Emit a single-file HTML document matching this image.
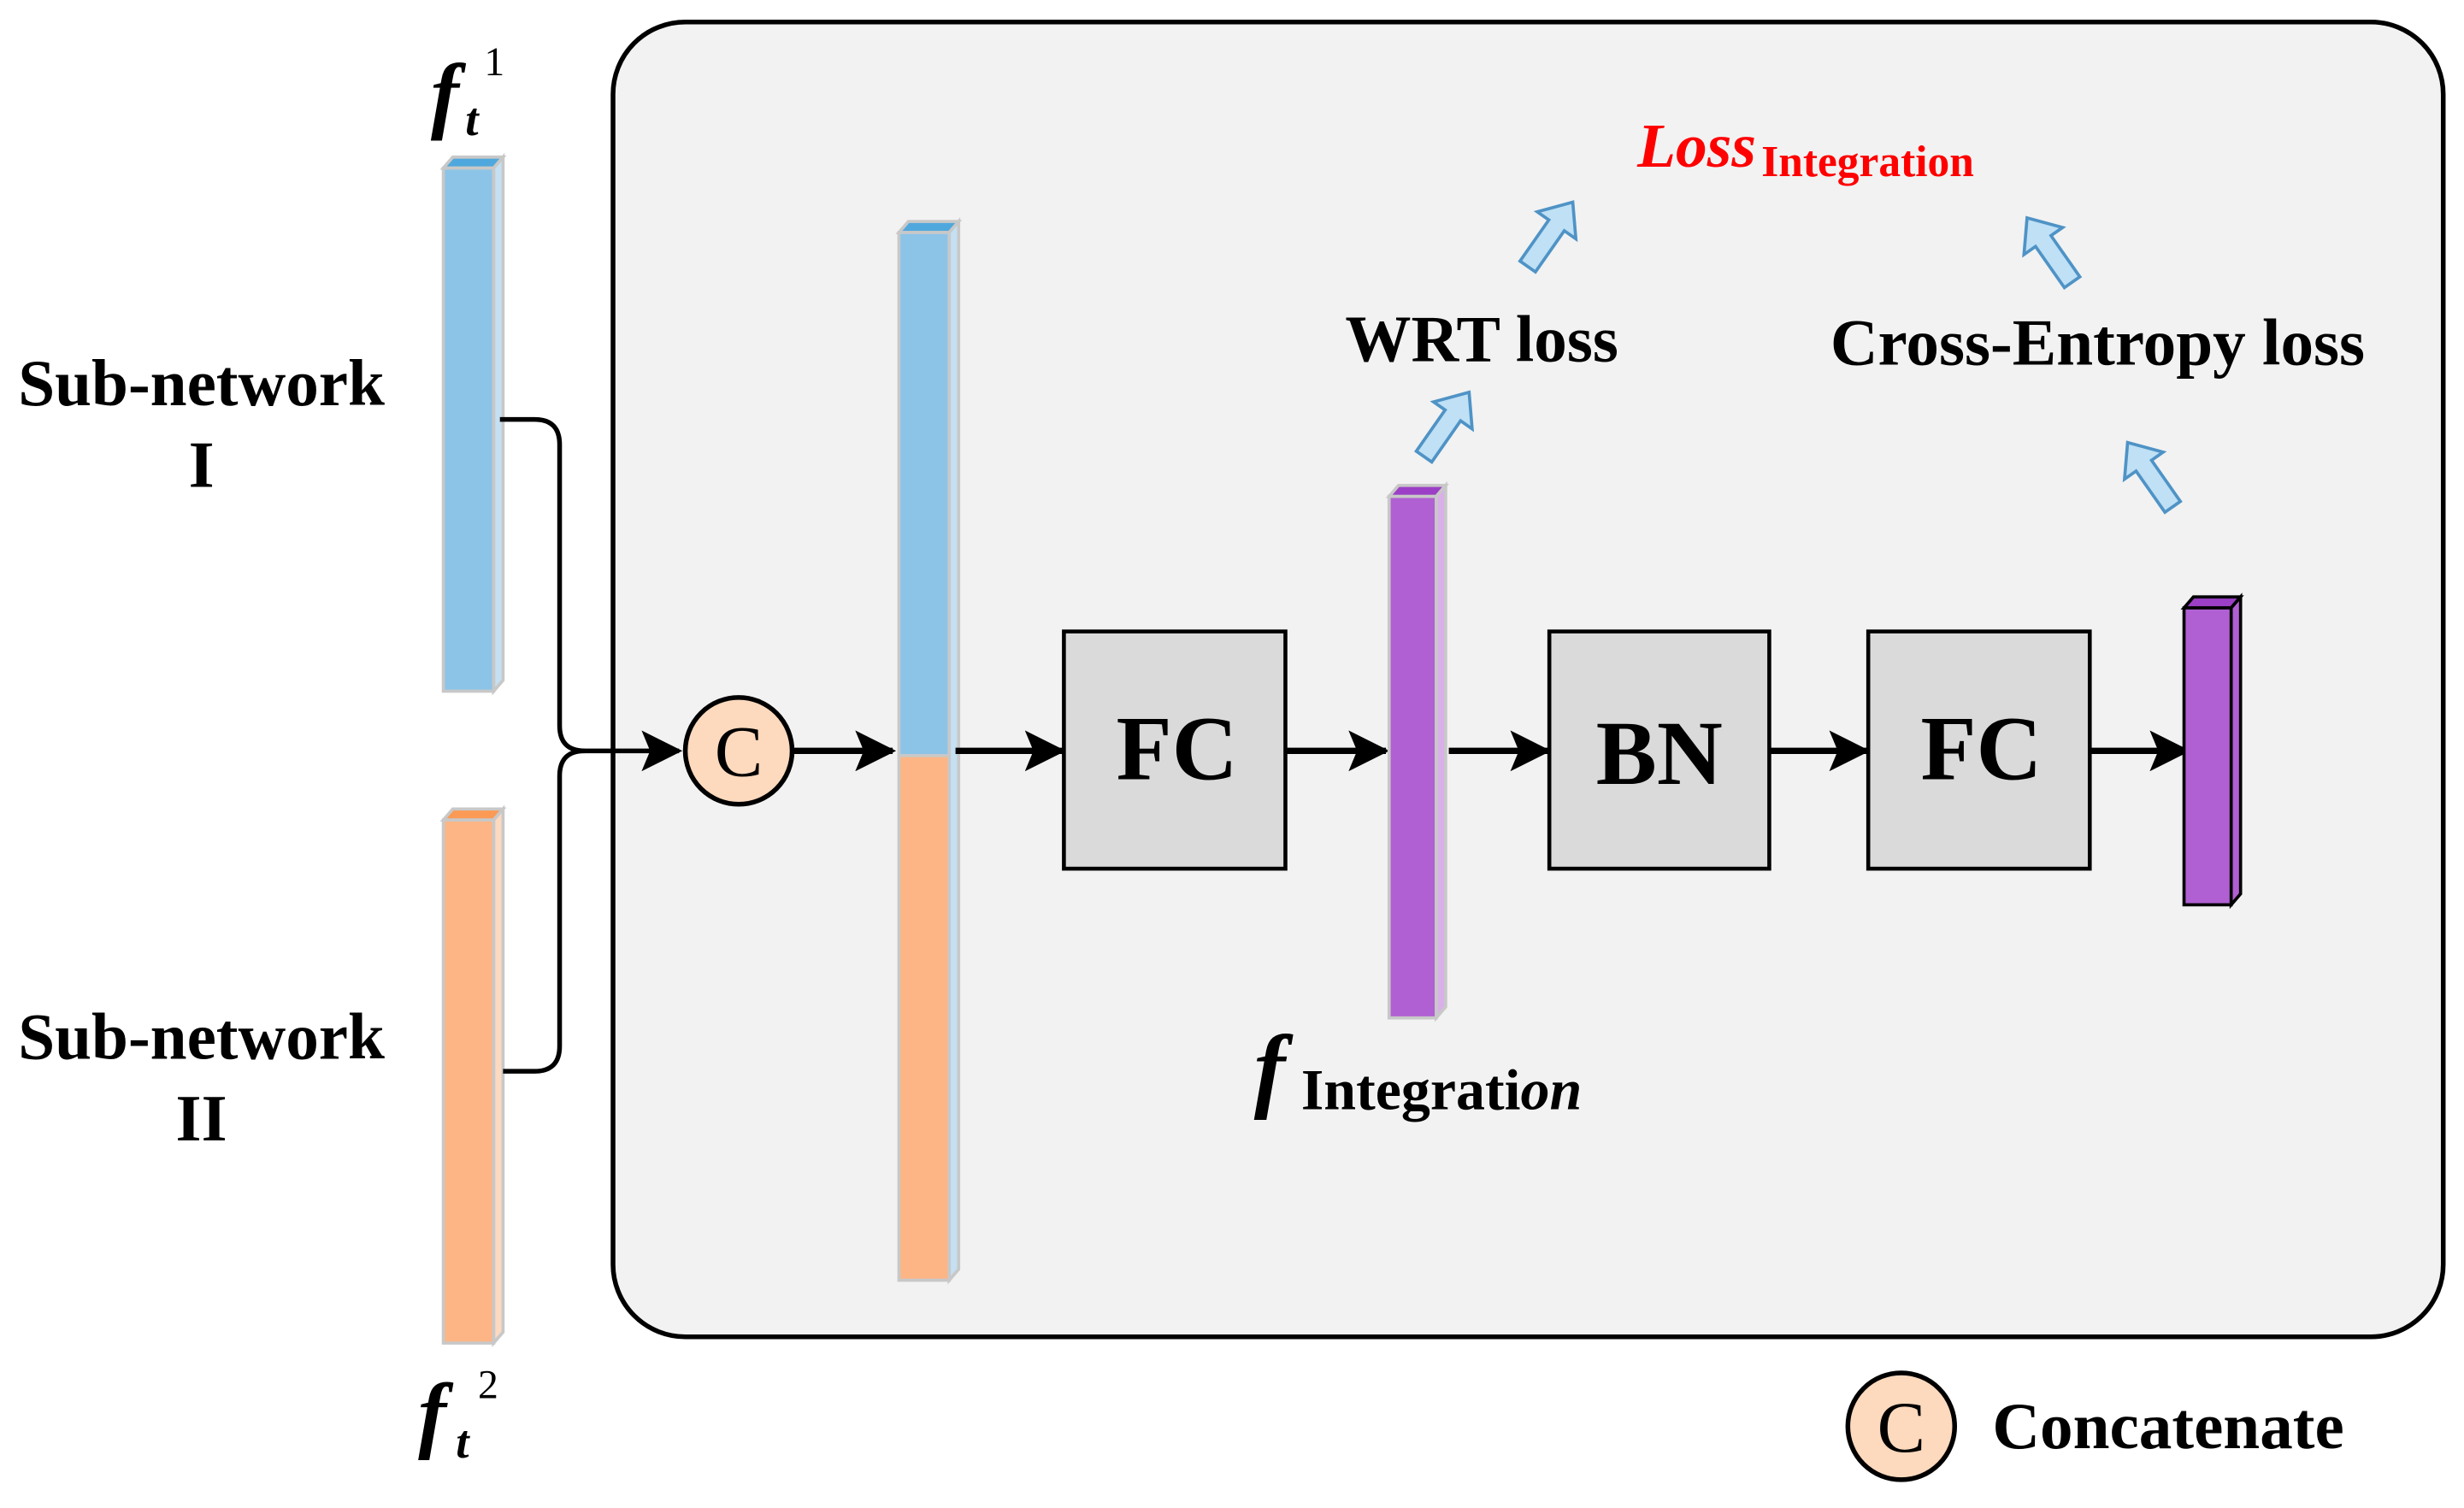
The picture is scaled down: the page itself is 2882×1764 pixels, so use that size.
<!DOCTYPE html>
<html><head><meta charset="utf-8"><style>
html,body{margin:0;padding:0;background:#fff;}
svg{display:block;}
text{font-family:"Liberation Serif",serif;font-weight:bold;}
</style></head><body>
<svg width="2882" height="1764" viewBox="0 0 1568 960" xmlns="http://www.w3.org/2000/svg">
<defs>
<marker id="ah2" viewBox="0 0 24 24" markerWidth="26" markerHeight="26" refX="22" refY="12" orient="auto" markerUnits="userSpaceOnUse">
<path d="M0,0 L24,12 L0,24 L5,12 Z" fill="#000"/>
</marker>
<polygon id="blk" points="0,-26 15,-8 6,-8 6,24 -6,24 -6,-8 -15,-8" fill="#bfe0f5" stroke="#4f93c6" stroke-width="2"/>
</defs>
<rect x="390" y="14" width="1165" height="837" rx="46" fill="#f2f2f2" stroke="#000" stroke-width="3"/>

<polygon points="282,107 288,100 320,100 314,107" fill="#4fa8dd" stroke="#c8c8c8" stroke-width="2"/>
<polygon points="314,107 320,100 320,433 314,440" fill="#c4e0f2" stroke="#c8c8c8" stroke-width="2"/>
<rect x="282" y="107" width="32" height="333" fill="#8cc4e7" stroke="#c8c8c8" stroke-width="2"/>
<polygon points="282,522 288,515 320,515 314,522" fill="#fb9a55" stroke="#c8c8c8" stroke-width="2"/>
<polygon points="314,522 320,515 320,848 314,855" fill="#fcd9c0" stroke="#c8c8c8" stroke-width="2"/>
<rect x="282" y="522" width="32" height="333" fill="#fdb585" stroke="#c8c8c8" stroke-width="2"/>

<path d="M318,267 H340 Q356,267 356,283 V462 Q356,478 372,478 H432" fill="none" stroke="#000" stroke-width="3" marker-end="url(#ah2)"/>
<path d="M320,682 H340 Q356,682 356,666 V494 Q356,478 372,478" fill="none" stroke="#000" stroke-width="3"/>

<circle cx="470" cy="478" r="34" fill="#fdd9bd" stroke="#000" stroke-width="3"/>
<text x="470" y="494" text-anchor="middle" font-size="46" style="font-weight:normal">C</text>
<line x1="504" y1="478" x2="568" y2="478" stroke="#000" stroke-width="4" marker-end="url(#ah2)"/>

<polygon points="572,148 578,141 610,141 604,148" fill="#4fa8dd" stroke="#c8c8c8" stroke-width="2"/>
<polygon points="604,148 610,141 610,808 604,815" fill="#c4e0f2" stroke="#c8c8c8" stroke-width="2"/>
<rect x="572" y="148" width="32" height="333" fill="#8cc4e7" stroke="#c8c8c8" stroke-width="2"/>
<rect x="572" y="481" width="32" height="334" fill="#fdb585" stroke="#c8c8c8" stroke-width="2"/>
<line x1="608" y1="478" x2="676" y2="478" stroke="#000" stroke-width="4" marker-end="url(#ah2)"/>

<rect x="677" y="402" width="141" height="151" fill="#dadada" stroke="#000" stroke-width="2.5"/>
<text x="749" y="496" text-anchor="middle" font-size="58">FC</text>
<line x1="818" y1="478" x2="882" y2="478" stroke="#000" stroke-width="4" marker-end="url(#ah2)"/>

<polygon points="884,316 890,309 920,309 914,316" fill="#9b3fc6" stroke="#c8c8c8" stroke-width="2"/>
<polygon points="914,316 920,309 920,641 914,648" fill="#dab0e8" stroke="#c8c8c8" stroke-width="2"/>
<rect x="884" y="316" width="30" height="332" fill="#b060d2" stroke="#c8c8c8" stroke-width="2"/>
<line x1="922" y1="478" x2="985" y2="478" stroke="#000" stroke-width="4" marker-end="url(#ah2)"/>

<rect x="986" y="402" width="140" height="151" fill="#dadada" stroke="#000" stroke-width="2.5"/>
<text x="1056" y="499" text-anchor="middle" font-size="58">BN</text>
<line x1="1126" y1="478" x2="1188" y2="478" stroke="#000" stroke-width="4" marker-end="url(#ah2)"/>

<rect x="1189" y="402" width="141" height="151" fill="#dadada" stroke="#000" stroke-width="2.5"/>
<text x="1261" y="496" text-anchor="middle" font-size="58">FC</text>
<line x1="1330" y1="478" x2="1392" y2="478" stroke="#000" stroke-width="4" marker-end="url(#ah2)"/>

<polygon points="1390,387 1396,380 1426,380 1420,387" fill="#9b3fc6" stroke="#000" stroke-width="2"/>
<polygon points="1420,387 1426,380 1426,569 1420,576" fill="#b060d2" stroke="#000" stroke-width="2"/>
<rect x="1390" y="387" width="30" height="189" fill="#b060d2" stroke="#000" stroke-width="2"/>

<use href="#blk" transform="translate(986,150) rotate(35)"/>
<use href="#blk" transform="translate(920,271) rotate(35)"/>
<use href="#blk" transform="translate(1305,160) rotate(-35)"/>
<use href="#blk" transform="translate(1369,303) rotate(-35)"/>

<text x="274" y="78" font-size="54" font-style="italic">f</text>
<text x="296" y="86" font-size="30" font-style="italic">t</text>
<text x="308" y="48" font-size="26" style="font-weight:normal">1</text>
<text x="128" y="258" text-anchor="middle" font-size="42">Sub-network</text>
<text x="128" y="310" text-anchor="middle" font-size="42">I</text>
<text x="128" y="674" text-anchor="middle" font-size="42">Sub-network</text>
<text x="128" y="726" text-anchor="middle" font-size="42">II</text>
<text x="266" y="918" font-size="54" font-style="italic">f</text>
<text x="290" y="928" font-size="30" font-style="italic">t</text>
<text x="304" y="890" font-size="26" style="font-weight:normal">2</text>

<text x="943" y="230" text-anchor="middle" font-size="42">WRT loss</text>
<text x="1335" y="232" text-anchor="middle" font-size="42">Cross-Entropy loss</text>
<text x="1042" y="106" font-size="40" font-style="italic" fill="#ff0000">Loss</text>
<text x="1121" y="112" font-size="28" fill="#ff0000">Integration</text>

<text x="798" y="700" font-size="60" font-style="italic">f</text>
<text x="828" y="706" font-size="37">Integrati<tspan font-style="italic">on</tspan></text>

<circle cx="1210" cy="908" r="34" fill="#fdd9bd" stroke="#000" stroke-width="3"/>
<text x="1210" y="924" text-anchor="middle" font-size="46" style="font-weight:normal">C</text>
<text x="1268" y="922" font-size="42">Concatenate</text>
</svg>
</body></html>
